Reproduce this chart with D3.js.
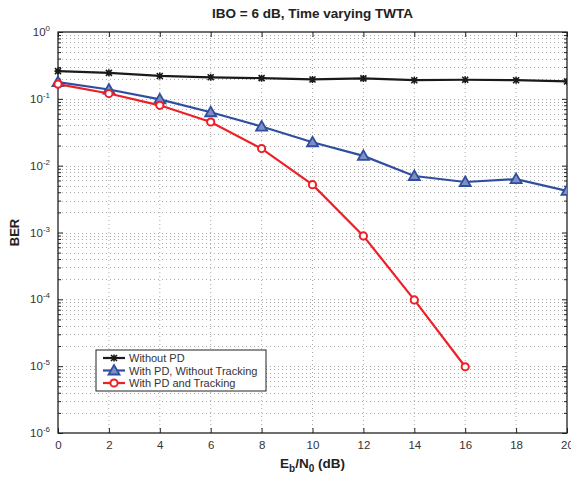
<!DOCTYPE html>
<html>
<head>
<meta charset="utf-8">
<script src="https://cdn.jsdelivr.net/npm/d3@7"></script>
<style>
  body { margin: 0; background: #fff; }
  svg { font-family: "Liberation Sans", Arial, sans-serif; }
</style>
</head>
<body>
<div id="chart"></div>
<script>
// data
const ebn0 = [0, 2, 4, 6, 8, 10, 12, 14, 16, 18, 20];
const berNoPD = [0.26, 0.245, 0.22, 0.21, 0.204, 0.195, 0.202, 0.19, 0.193, 0.19, 0.182];
const berPDNoTrack = [0.178, 0.138, 0.098, 0.063, 0.0385, 0.0224, 0.014, 0.0070, 0.0057, 0.0063, 0.0042];
const berPDTrack = [0.166, 0.12, 0.08, 0.045, 0.018, 0.0052, 0.00089, 0.000098, 0.0000098];
const seriesNames = ["Without PD", "With PD, Without Tracking", "With PD and Tracking"];
const xTicks = [0, 2, 4, 6, 8, 10, 12, 14, 16, 18, 20];
const yDecades = [0, -1, -2, -3, -4, -5, -6];

const width = 571, height = 478;
const margin = {top: 32, right: 4, bottom: 45, left: 58};
const iw = width - margin.left - margin.right;
const ih = height - margin.top - margin.bottom;

const svg = d3.select("#chart").append("svg")
    .attr("width", width)
    .attr("height", height);

const x = d3.scaleLinear().domain([0, 20]).range([0, iw]);
const y = d3.scaleLog().domain([1e-6, 1]).range([ih, 0]);

const g = svg.append("g").attr("transform", `translate(${margin.left},${margin.top})`);

// minor values
const minorY = [];
yDecades.slice(1).forEach(e => {
  for (let k = 2; k <= 9; k++) minorY.push(k * Math.pow(10, e));
});

// grid
const grid = g.append("g").attr("stroke", "#888").attr("stroke-width", 0.7)
    .attr("stroke-dasharray", "1,3").attr("fill", "none");
grid.selectAll(".gx").data(xTicks.slice(1, -1)).join("line")
    .attr("x1", d => x(d)).attr("x2", d => x(d))
    .attr("y1", 0).attr("y2", ih);
grid.selectAll(".gy").data(minorY.concat(yDecades.slice(1, -1).map(e => Math.pow(10, e)))).join("line")
    .attr("x1", 0).attr("x2", iw)
    .attr("y1", d => Math.round(y(d)) + 0.5).attr("y2", d => Math.round(y(d)) + 0.5);

// axes (MATLAB style inward ticks)
const tickIn = 5, minorIn = 3;
const xAxis = d3.axisBottom(x).tickValues(xTicks).tickSize(-tickIn).tickPadding(8).tickFormat(d3.format("d"));
const xAx = g.append("g").attr("transform", `translate(0,${ih})`).call(xAxis);
g.append("g").call(d3.axisTop(x).tickValues(xTicks).tickSize(-tickIn).tickFormat(""));

const yAxis = d3.axisLeft(y).tickValues(yDecades.map(e => Math.pow(10, e))).tickSize(-tickIn).tickFormat("");
g.append("g").call(yAxis);
g.append("g").attr("transform", `translate(${iw},0)`)
    .call(d3.axisRight(y).tickValues(yDecades.map(e => Math.pow(10, e))).tickSize(-tickIn).tickFormat(""));
g.append("g").call(d3.axisLeft(y).tickValues(minorY).tickSize(-minorIn).tickFormat(""));
g.append("g").attr("transform", `translate(${iw},0)`)
    .call(d3.axisRight(y).tickValues(minorY).tickSize(-minorIn).tickFormat(""));

g.selectAll(".domain").remove();
g.selectAll(".tick line").attr("stroke", "#222").attr("stroke-width", 1);
xAx.selectAll("text").attr("font-size", 11.5).attr("fill", "#333");

// y labels 10^e
const yl = g.append("g").attr("font-size", 11.5).attr("fill", "#333");
yDecades.forEach(e => {
  const t = yl.append("text")
      .attr("x", -8).attr("y", y(Math.pow(10, e)) + 4)
      .attr("text-anchor", "end");
  t.append("tspan").text("10");
  t.append("tspan").attr("dy", -5).attr("font-size", 8).text(e);
});

// box
g.append("rect").attr("width", iw).attr("height", ih)
    .attr("fill", "none").attr("stroke", "#222").attr("stroke-width", 1.3);

// series
const series = [
  {name: seriesNames[0], vals: berNoPD, color: "#1a1a1a", marker: "star"},
  {name: seriesNames[1], vals: berPDNoTrack, color: "#2f4ea0", marker: "tri"},
  {name: seriesNames[2], vals: berPDTrack, color: "#ee2027", marker: "circ"}
];

const line = d3.line().x(d => x(d[0])).y(d => y(d[1]));

function drawMarker(sel, m, color) {
  if (m === "circ") {
    sel.append("circle").attr("r", 3.6).attr("fill", "#fff")
        .attr("stroke", color).attr("stroke-width", 2);
  } else if (m === "tri") {
    sel.append("path").attr("d", "M0,-5.5L5.5,4L-5.5,4Z").attr("fill", "#7f8fc4")
        .attr("stroke", color).attr("stroke-width", 1.8).attr("stroke-linejoin", "miter");
  } else {
    sel.append("path").attr("d", "M-3,-3L3,3M-3,3L3,-3M0,-3.5L0,3.5M-3.5,0L3.5,0")
        .attr("stroke", color).attr("stroke-width", 1.6);
  }
}

const clipId = "plotclip";
g.append("clipPath").attr("id", clipId).append("rect")
    .attr("x", -8).attr("y", -8).attr("width", iw + 8).attr("height", ih + 16);

series.forEach(s => {
  const pts = s.vals.map((v, i) => [ebn0[i], v]);
  const sg = g.append("g").attr("clip-path", `url(#${clipId})`);
  sg.append("path").datum(pts).attr("d", line)
      .attr("fill", "none").attr("stroke", s.color).attr("stroke-width", 2.2);
  sg.selectAll("g.m").data(pts).join("g")
      .attr("transform", d => `translate(${x(d[0])},${y(d[1])})`)
      .each(function() { drawMarker(d3.select(this), s.marker, s.color); });
});

// legend
const lg = svg.append("g").attr("transform", "translate(96,350)");
lg.append("rect").attr("width", 170).attr("height", 41)
    .attr("fill", "#fff").attr("stroke", "#222").attr("stroke-width", 1);
series.forEach((s, i) => {
  const row = lg.append("g").attr("transform", `translate(0,${8 + i * 12.5})`);
  row.append("line").attr("x1", 7).attr("x2", 29).attr("stroke", s.color).attr("stroke-width", 2.2);
  drawMarker(row.append("g").attr("transform", "translate(18,0)"), s.marker, s.color);
  row.append("text").attr("x", 33).attr("y", 4).attr("font-size", 11).attr("fill", "#333").text(s.name);
});

// title & labels
svg.append("text").attr("x", margin.left + iw / 2).attr("y", 18)
    .attr("text-anchor", "middle").attr("font-weight", "bold").attr("font-size", 13.5)
    .attr("fill", "#222").text("IBO = 6 dB, Time varying TWTA");

svg.append("text").attr("transform", `translate(19,${margin.top + ih / 2}) rotate(-90)`)
    .attr("text-anchor", "middle").attr("font-weight", "bold").attr("font-size", 13)
    .attr("fill", "#222").text("BER");

const xl = svg.append("text").attr("x", margin.left + iw / 2).attr("y", 468)
    .attr("text-anchor", "middle").attr("font-weight", "bold").attr("font-size", 13.5)
    .attr("fill", "#222");
xl.append("tspan").text("E");
xl.append("tspan").attr("dy", 4).attr("font-size", 10).text("b");
xl.append("tspan").attr("dy", -4).text("/N");
xl.append("tspan").attr("dy", 4).attr("font-size", 10).text("0");
xl.append("tspan").attr("dy", -4).text(" (dB)");
</script>
</body>
</html>
